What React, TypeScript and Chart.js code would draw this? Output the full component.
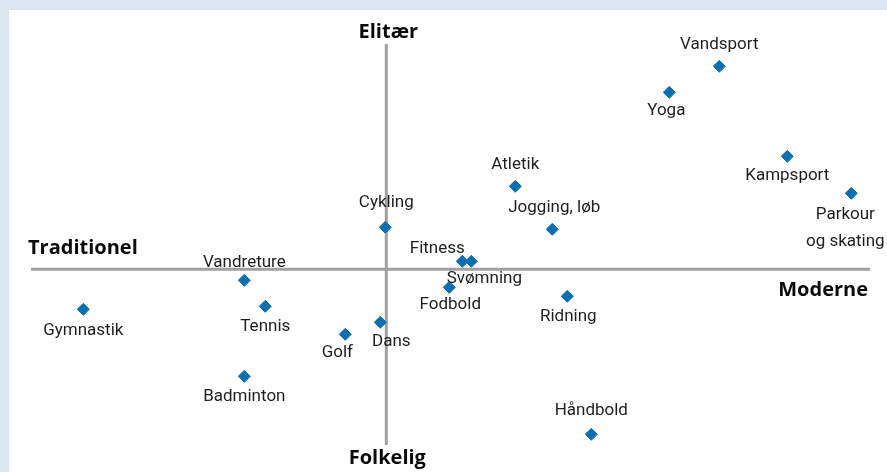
import React, { useEffect, useRef } from 'react';
import { Chart, registerables } from 'chart.js';

Chart.register(...registerables);

// ---- Data ----
const SPORTS: string[] = [
  'Vandsport', 'Yoga', 'Kampsport', 'Parkour\nog skating', 'Atletik', 'Jogging, løb',
  'Cykling', 'Fitness', 'Svømning', 'Fodbold', 'Ridning', 'Vandreture',
  'Tennis', 'Gymnastik', 'Golf', 'Dans', 'Badminton', 'Håndbold',
];
// Traditionel (-) ... Moderne (+)
const MODERNITY: number[] = [
  3.33, 2.83, 4.01, 4.65, 1.29, 1.66,
  -0.01, 0.76, 0.85, 0.63, 1.81, -1.42,
  -1.21, -3.03, -0.41, -0.06, -1.42, 2.05,
];
// Folkelig (-) ... Elitær (+)
const ELITISM: number[] = [
  2.03, 1.77, 1.13, 0.76, 0.83, 0.40,
  0.42, 0.08, 0.08, -0.18, -0.27, -0.11,
  -0.37, -0.40, -0.65, -0.53, -1.07, -1.65,
];
const TITLE_TOP = 'Elitær';
const TITLE_BOTTOM = 'Folkelig';
const TITLE_LEFT = 'Traditionel';
const TITLE_RIGHT = 'Moderne';

const X_MIN = -3.553;
const X_MAX = 4.837;
const Y_MIN = -1.757;
const Y_MAX = 2.253;

// label placement relative to each marker (pixels)
const LABEL_OFFSETS: [number, number][] = [
  [0, -22], [-3, 18], [0, 19], [-6, 21], [0, -22], [2, -22],
  [1, -25], [-25, -13], [13, 17], [1, 17], [1, 20], [0, -18],
  [0, 20], [0, 21], [-8, 18], [11, 19], [0, 20], [0, -24],
];

const POINT_COLOR = '#0b6fb0';
const AXIS_COLOR = '#a0a0a0';
const LABEL_FONT = '17px Roboto';
const TITLE_FONT = 'bold 20px "Open Sans"';

const quadrantPlugin = {
  id: 'quadrant',
  beforeDatasetsDraw(chart: any) {
    const { ctx, chartArea, scales } = chart;
    const ox = scales.x.getPixelForValue(0);
    const oy = scales.y.getPixelForValue(0);
    ctx.save();
    ctx.strokeStyle = AXIS_COLOR;
    ctx.lineWidth = 3;
    ctx.beginPath();
    ctx.moveTo(chartArea.left, oy);
    ctx.lineTo(chartArea.right, oy);
    ctx.moveTo(ox, chartArea.top);
    ctx.lineTo(ox, chartArea.bottom);
    ctx.stroke();
    ctx.restore();
  },
  afterDatasetsDraw(chart: any) {
    const { ctx, chartArea, scales } = chart;
    const ox = scales.x.getPixelForValue(0);
    const oy = scales.y.getPixelForValue(0);
    const meta = chart.getDatasetMeta(0);
    ctx.save();
    ctx.fillStyle = '#1e1e1e';
    ctx.font = LABEL_FONT;
    ctx.textAlign = 'center';
    ctx.textBaseline = 'middle';
    meta.data.forEach((pt: any, i: number) => {
      const [dx, dy] = LABEL_OFFSETS[i];
      const lines = SPORTS[i].split('\n');
      lines.forEach((line, j) => {
        ctx.fillText(line, pt.x + dx, pt.y + dy + j * 27);
      });
    });
    // axis titles
    ctx.fillStyle = '#0a0a0a';
    ctx.font = TITLE_FONT;
    ctx.textAlign = 'center';
    ctx.fillText(TITLE_TOP, ox + 2, chartArea.top - 12);
    ctx.fillText(TITLE_BOTTOM, ox + 1, chartArea.bottom + 13);
    ctx.textAlign = 'left';
    ctx.fillText(TITLE_LEFT, chartArea.left - 3, oy - 21);
    ctx.textAlign = 'right';
    ctx.fillText(TITLE_RIGHT, chartArea.right - 2, oy + 21);
    ctx.restore();
  },
};

export default function App() {
  const ref = useRef<HTMLCanvasElement | null>(null);
  useEffect(() => {
    document.body.style.margin = '0';
    if (!ref.current) return;
    const chart = new Chart(ref.current, {
      type: 'scatter',
      data: {
        datasets: [
          {
            data: MODERNITY.map((x, i) => ({ x, y: ELITISM[i] })),
            pointStyle: 'rectRot',
            pointRadius: 6,
            pointHoverRadius: 6,
            pointBackgroundColor: POINT_COLOR,
            pointBorderColor: POINT_COLOR,
            pointBorderWidth: 1,
          },
        ],
      },
      options: {
        animation: false,
        responsive: false,
        maintainAspectRatio: false,
        events: [],
        layout: { padding: { left: 31, right: 17, top: 44, bottom: 27 } },
        plugins: { legend: { display: false }, tooltip: { enabled: false } },
        scales: {
          x: { type: 'linear', display: false, min: X_MIN, max: X_MAX },
          y: { type: 'linear', display: false, min: Y_MIN, max: Y_MAX },
        },
      },
      plugins: [quadrantPlugin],
    });
    return () => chart.destroy();
  }, []);

  return (
    <div style={{ position: 'fixed', left: 0, top: 0, width: 887, height: 472, background: '#dce6f1', overflow: 'hidden' }}>
      <div style={{ position: 'absolute', left: 9, top: 10, width: 878, height: 462, background: '#ffffff' }} />
      <canvas ref={ref} width={887} height={472} style={{ position: 'absolute', left: 0, top: 0, width: 887, height: 472 }} />
    </div>
  );
}
